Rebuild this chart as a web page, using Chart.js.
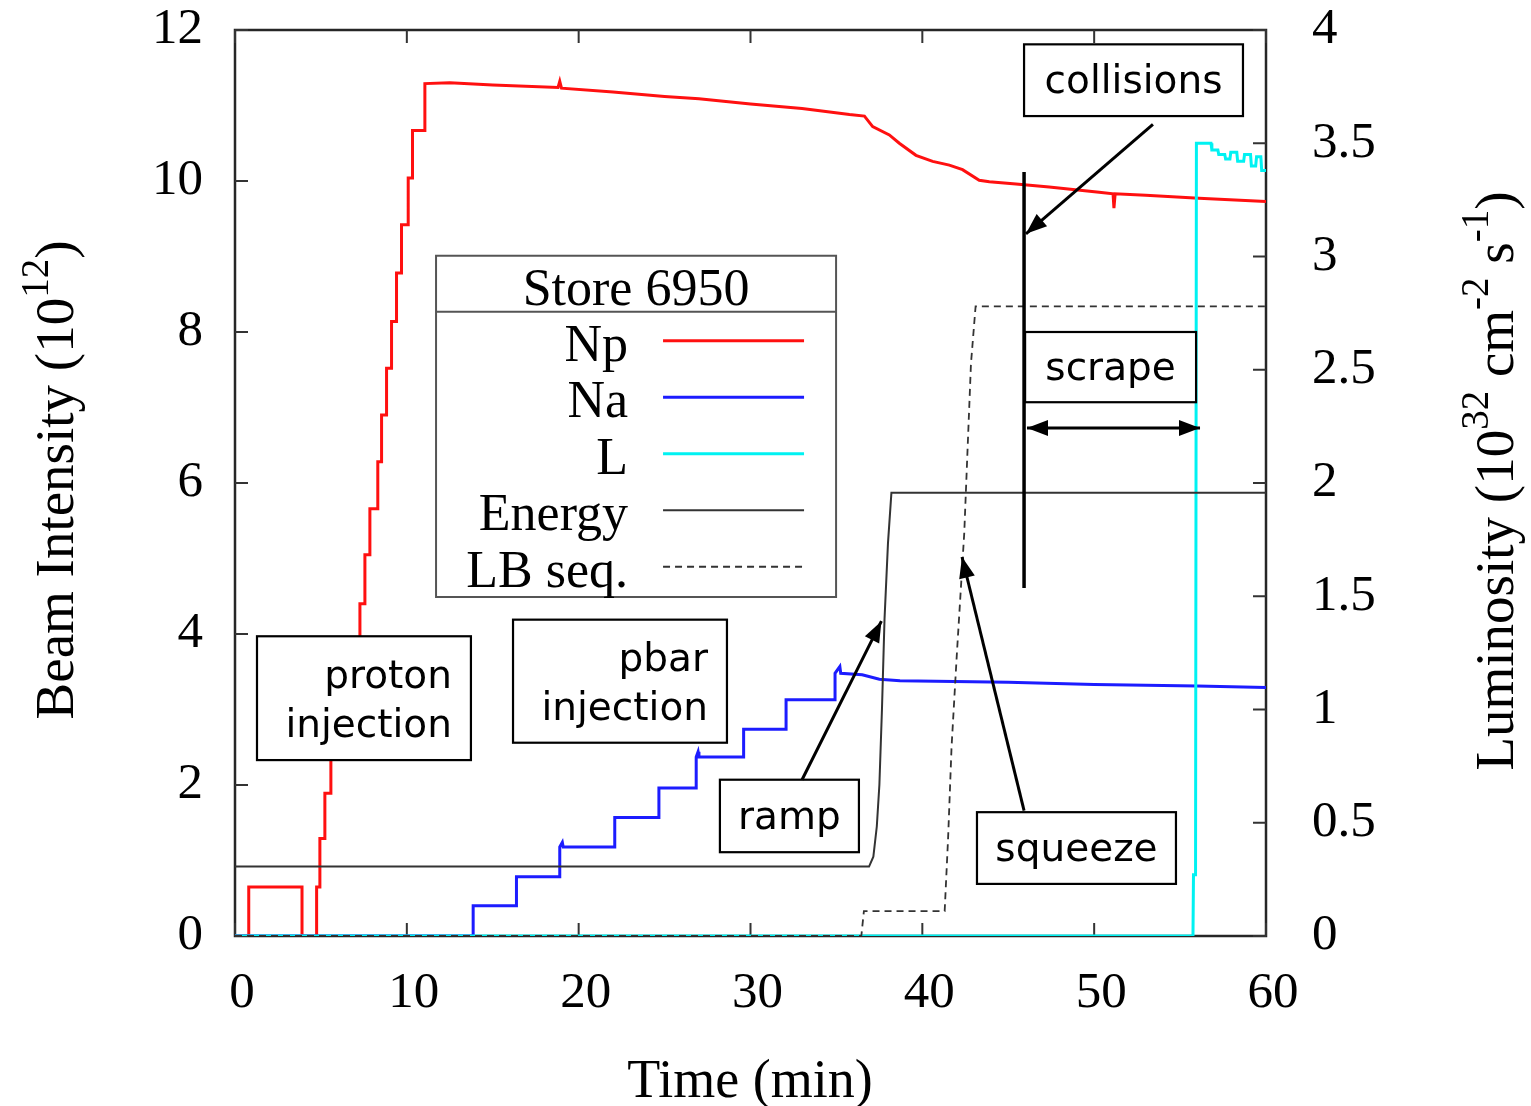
<!DOCTYPE html>
<html>
<head>
<meta charset="utf-8">
<title>Store 6950</title>
<script src="https://cdn.jsdelivr.net/npm/chart.js@4.4.1/dist/chart.umd.min.js"></script>
<style>
  html, body { margin: 0; padding: 0; background: #ffffff; }
  #wrap { width: 1531px; height: 1106px; }
</style>
</head>
<body>
<div id="wrap"><canvas id="c" width="1531" height="1106"></canvas></div>
<script>
// Store 6950 — beam intensities, luminosity, energy and low-beta sequence vs. time.
// Each series is a list of [time (min), value] samples.

// Proton intensity Np (10^12), left axis
const npPoints = [
  [0, 0], [0.8, 0], [0.8, 0.65], [3.9, 0.65], [3.9, 0], [4.75, 0],
  [4.75, 0.65], [4.94, 0.65], [4.94, 1.29], [5.23, 1.29], [5.23, 1.89],
  [5.58, 1.89], [5.58, 2.50], [6.10, 2.50], [6.10, 3.13], [6.69, 3.13],
  [6.69, 3.76], [7.27, 3.76], [7.27, 4.40], [7.56, 4.40], [7.56, 5.05],
  [7.85, 5.05], [7.85, 5.66], [8.31, 5.66], [8.31, 6.28], [8.53, 6.28],
  [8.53, 6.90], [8.82, 6.90], [8.82, 7.52], [9.11, 7.52], [9.11, 8.14],
  [9.40, 8.14], [9.40, 8.78], [9.69, 8.78], [9.69, 9.42], [10.08, 9.42],
  [10.08, 10.04], [10.33, 10.04], [10.33, 10.67], [11.05, 10.67],
  [11.05, 11.29], [12.5, 11.30], [15, 11.27], [18.8, 11.24], [18.9, 11.32],
  [19.0, 11.23], [22, 11.18], [25, 11.12], [27, 11.09], [30, 11.02],
  [33, 10.96], [35.76, 10.88], [36.63, 10.86], [37.11, 10.72], [38.08, 10.61],
  [38.66, 10.50], [39.63, 10.34], [40.6, 10.26], [41.57, 10.21], [42.34, 10.15],
  [43.31, 10.01], [43.9, 9.99], [45.45, 9.96], [47.38, 9.92], [50.29, 9.85],
  [51.1, 9.83], [51.15, 9.64], [51.22, 9.83], [53, 9.81], [56.1, 9.77], [60, 9.73]
];

// Antiproton intensity Na (10^12), left axis
const naPoints = [
  [0, 0], [13.86, 0], [13.86, 0.40], [16.38, 0.40], [16.38, 0.785],
  [18.9, 0.785], [18.9, 1.18], [19.05, 1.24], [19.1, 1.18], [22.1, 1.18],
  [22.1, 1.57], [24.67, 1.57], [24.67, 1.96], [26.84, 1.96], [26.84, 2.37],
  [26.95, 2.44], [27.0, 2.37], [29.6, 2.37], [29.6, 2.74], [32.07, 2.74],
  [32.07, 3.13], [34.92, 3.13], [34.92, 3.48], [35.2, 3.57], [35.25, 3.48],
  [36.5, 3.46], [37.5, 3.40], [38.7, 3.38], [45, 3.36], [50, 3.33],
  [56, 3.31], [60, 3.29]
];

// Luminosity L (10^32 cm^-2 s^-1), right axis
const lumPoints = [
  [0, 0], [55.75, 0], [55.78, 0.27], [55.9, 0.27], [55.95, 3.50], [56.8, 3.50],
  [56.85, 3.47], [57.2, 3.47], [57.25, 3.45], [57.6, 3.45], [57.65, 3.43],
  [57.9, 3.43], [57.95, 3.46], [58.3, 3.46], [58.35, 3.42], [58.7, 3.42],
  [58.75, 3.45], [59.1, 3.45], [59.15, 3.40], [59.4, 3.40], [59.45, 3.44],
  [59.7, 3.44], [59.75, 3.38], [60, 3.38]
];

// Beam energy (scaled), left axis
const energyPoints = [
  [0, 0.92], [36.9, 0.92], [37.15, 1.05], [37.35, 1.45], [37.5, 2.0],
  [37.65, 3.0], [37.8, 4.2], [38.0, 5.2], [38.2, 5.87], [60, 5.87]
];

// Low-beta sequencer step (scaled), left axis
const lbSeqPoints = [
  [0, 0], [36.45, 0], [36.6, 0.33], [41.3, 0.33], [41.5, 1.3], [41.7, 2.5],
  [42.0, 3.7], [42.44, 5.34], [42.83, 7.58], [43.1, 8.34], [60, 8.34]
];

const seriesNames = ['Np', 'Na', 'L', 'Energy', 'LB seq.'];
const xTicks = [0, 10, 20, 30, 40, 50, 60];
const yLeftTicks = [0, 2, 4, 6, 8, 10, 12];
const yRightTicks = [0, 0.5, 1, 1.5, 2, 2.5, 3, 3.5, 4];
const legendTitle = 'Store 6950';

const SERIF = '"Liberation Serif", "DejaVu Serif", serif';
const HAND = '"DejaVu Sans", "Noto Sans", sans-serif';

const toXY = pts => pts.map(p => ({ x: p[0], y: p[1] }));

// Labelled callout boxes, placed in data coordinates (time, left-axis value)
const callouts = [
  { lines: ['proton', 'injection'], t0: 1.28, t1: 13.73, v0: 3.97, v1: 2.33, align: 'right' },
  { lines: ['pbar', 'injection'], t0: 16.18, t1: 28.63, v0: 4.19, v1: 2.56, align: 'right' },
  { lines: ['ramp'], t0: 28.22, t1: 36.31, v0: 2.07, v1: 1.11, align: 'center' },
  { lines: ['squeeze'], t0: 43.18, t1: 54.76, v0: 1.64, v1: 0.69, align: 'center' },
  { lines: ['collisions'], t0: 45.92, t1: 58.66, v0: 11.81, v1: 10.86, align: 'center' },
  { lines: ['scrape'], t0: 45.98, t1: 55.93, v0: 8.00, v1: 7.07, align: 'center' }
];
// Arrows: [tFrom, vFrom, tTo, vTo, doubleHeaded]
const arrows = [
  [33.0, 2.07, 37.62, 4.17, false],
  [45.92, 1.66, 42.31, 5.02, false],
  [53.42, 10.75, 46.03, 9.30, false],
  [46.09, 6.73, 56.16, 6.73, true]
];
// Marker for the start of collisions
const collisionMarker = { t: 45.92, v0: 4.61, v1: 10.12 };

function arrowHead(ctx, x0, y0, x1, y1) {
  const ang = Math.atan2(y1 - y0, x1 - x0);
  const len = 21, half = 8;
  ctx.beginPath();
  ctx.moveTo(x1, y1);
  ctx.lineTo(x1 - len * Math.cos(ang) + half * Math.sin(ang), y1 - len * Math.sin(ang) - half * Math.cos(ang));
  ctx.lineTo(x1 - len * Math.cos(ang) - half * Math.sin(ang), y1 - len * Math.sin(ang) + half * Math.cos(ang));
  ctx.closePath();
  ctx.fill();
}

function drawRich(ctx, pieces, cx, cy, angle, base, sup) {
  ctx.save();
  ctx.translate(cx, cy);
  ctx.rotate(angle);
  ctx.textAlign = 'left';
  ctx.textBaseline = 'alphabetic';
  ctx.fillStyle = '#000';
  let total = 0;
  const widths = pieces.map(p => {
    ctx.font = (p.sup ? sup : base) + 'px ' + SERIF;
    const w = ctx.measureText(p.t).width;
    total += w;
    return w;
  });
  let x = -total / 2;
  pieces.forEach((p, i) => {
    ctx.font = (p.sup ? sup : base) + 'px ' + SERIF;
    ctx.fillText(p.t, x, p.sup ? -base * 0.46 : 0);
    x += widths[i];
  });
  ctx.restore();
}

const framePlugin = {
  id: 'frame',
  beforeDatasetsDraw(chart) {
    const { ctx, chartArea: a, scales } = chart;
    ctx.save();
    ctx.strokeStyle = '#262626';
    ctx.lineWidth = 2.5;
    ctx.strokeRect(a.left, a.top, a.right - a.left, a.bottom - a.top);
    ctx.lineWidth = 2;
    ctx.strokeStyle = '#333';
    const L = 13;
    ctx.beginPath();
    scales.x.ticks.forEach(t => {
      const p = scales.x.getPixelForValue(t.value);
      ctx.moveTo(p, a.bottom); ctx.lineTo(p, a.bottom - L);
      ctx.moveTo(p, a.top); ctx.lineTo(p, a.top + L);
    });
    scales.y.ticks.forEach(t => {
      const p = scales.y.getPixelForValue(t.value);
      ctx.moveTo(a.left, p); ctx.lineTo(a.left + L, p);
    });
    scales.y2.ticks.forEach(t => {
      const p = scales.y2.getPixelForValue(t.value);
      ctx.moveTo(a.right, p); ctx.lineTo(a.right - L, p);
    });
    ctx.stroke();
    ctx.restore();
  }
};

const overlayPlugin = {
  id: 'overlay',
  afterDatasetsDraw(chart) {
    const { ctx, scales } = chart;
    const X = v => scales.x.getPixelForValue(v);
    const Y = v => scales.y.getPixelForValue(v);
    ctx.save();

    // Legend box
    const lx0 = X(11.70), ly0 = Y(9.01), lx1 = X(34.98), ly1 = Y(4.49);
    ctx.fillStyle = '#fff';
    ctx.fillRect(lx0, ly0, lx1 - lx0, ly1 - ly0);
    ctx.strokeStyle = '#555';
    ctx.lineWidth = 2;
    ctx.strokeRect(lx0, ly0, lx1 - lx0, ly1 - ly0);
    ctx.beginPath();
    ctx.moveTo(lx0, ly0 + 56); ctx.lineTo(lx1, ly0 + 56);
    ctx.stroke();
    ctx.fillStyle = '#000';
    ctx.font = '52px ' + SERIF;
    ctx.textAlign = 'center';
    ctx.textBaseline = 'alphabetic';
    ctx.fillText(legendTitle, (lx0 + lx1) / 2, ly0 + 49);
    const legendOrder = [0, 1, 2, 3, 4];
    legendOrder.forEach((di, row) => {
      const ds = chart.data.datasets[di];
      const ry = ly0 + 85 + row * 56.5;
      ctx.fillStyle = '#000';
      ctx.textAlign = 'right';
      ctx.fillText(ds.label, lx0 + 192, ry + 20);
      ctx.save();
      ctx.strokeStyle = ds.borderColor;
      ctx.lineWidth = ds.borderWidth;
      ctx.setLineDash(ds.borderDash || []);
      ctx.beginPath();
      ctx.moveTo(lx0 + 227, ry); ctx.lineTo(lx0 + 368, ry);
      ctx.stroke();
      ctx.restore();
    });

    // Collision marker
    ctx.strokeStyle = '#000';
    ctx.lineWidth = 3.5;
    ctx.beginPath();
    ctx.moveTo(X(collisionMarker.t), Y(collisionMarker.v0));
    ctx.lineTo(X(collisionMarker.t), Y(collisionMarker.v1));
    ctx.stroke();

    // Callout boxes
    ctx.font = '39px ' + HAND;
    callouts.forEach(c => {
      const x0 = X(c.t0), x1 = X(c.t1), y0 = Y(c.v0), y1 = Y(c.v1);
      ctx.fillStyle = '#fff';
      ctx.fillRect(x0, y0, x1 - x0, y1 - y0);
      ctx.strokeStyle = '#000';
      ctx.lineWidth = 2.2;
      ctx.strokeRect(x0, y0, x1 - x0, y1 - y0);
      ctx.fillStyle = '#000';
      const cy = (y0 + y1) / 2;
      const n = c.lines.length;
      c.lines.forEach((txt, i) => {
        const by = n === 1 ? cy + 13 : cy - 10 + i * 49;
        if (c.align === 'right') {
          ctx.textAlign = 'right';
          ctx.fillText(txt, x1 - 19, by);
        } else {
          ctx.textAlign = 'center';
          ctx.fillText(txt, (x0 + x1) / 2, by);
        }
      });
    });

    // Arrows
    ctx.strokeStyle = '#000';
    ctx.fillStyle = '#000';
    ctx.lineWidth = 3;
    arrows.forEach(a => {
      const x0 = X(a[0]), y0 = Y(a[1]), x1 = X(a[2]), y1 = Y(a[3]);
      ctx.beginPath();
      ctx.moveTo(x0, y0); ctx.lineTo(x1, y1);
      ctx.stroke();
      arrowHead(ctx, x0, y0, x1, y1);
      if (a[4]) arrowHead(ctx, x1, y1, x0, y0);
    });
    ctx.restore();
  },
  afterDraw(chart) {
    const ctx = chart.ctx;
    drawRich(ctx, [{ t: 'Beam Intensity (10' }, { t: '12', sup: true }, { t: ')' }],
      73, 480, -Math.PI / 2, 55, 39);
    drawRich(ctx, [{ t: 'Luminosity (10' }, { t: '32', sup: true }, { t: ' cm' },
      { t: '-2', sup: true }, { t: ' s' }, { t: '-1', sup: true }, { t: ')' }],
      1513, 481, -Math.PI / 2, 55, 39);
    drawRich(ctx, [{ t: 'Time (min)' }], 750, 1097, 0, 54, 38);
  }
};

const tickFont = { family: SERIF, size: 51, lineHeight: 1 };

// Fixed axis band sizes; end-label overhang is absorbed by the layout padding.
const fixWidth = w => s => { s.width = w; s.paddingTop = 0; s.paddingBottom = 0; };
const fixHeight = h => s => { s.height = h; s.paddingLeft = 0; s.paddingRight = 0; };

new Chart(document.getElementById('c').getContext('2d'), {
  type: 'line',
  data: {
    datasets: [
      { label: seriesNames[0], data: toXY(npPoints), borderColor: '#ff1010', borderWidth: 3, yAxisID: 'y', order: 5 },
      { label: seriesNames[1], data: toXY(naPoints), borderColor: '#1c1cff', borderWidth: 3, yAxisID: 'y', order: 4 },
      { label: seriesNames[2], data: toXY(lumPoints), borderColor: '#00f2f2', borderWidth: 3, yAxisID: 'y2', order: 3 },
      { label: seriesNames[3], data: toXY(energyPoints), borderColor: '#333333', borderWidth: 2, yAxisID: 'y', order: 2 },
      { label: seriesNames[4], data: toXY(lbSeqPoints), borderColor: '#333333', borderWidth: 1.8, borderDash: [7, 5], yAxisID: 'y', order: 1 }
    ]
  },
  options: {
    responsive: false,
    animation: false,
    devicePixelRatio: 1,
    layout: { padding: { top: 30, left: 0, right: 0, bottom: 0 } },
    elements: { point: { radius: 0 }, line: { tension: 0, fill: false } },
    plugins: { legend: { display: false }, tooltip: { enabled: false } },
    scales: {
      x: {
        type: 'linear', min: 0, max: 60,
        afterBuildTicks: s => { s.ticks = xTicks.map(v => ({ value: v })); },
        ticks: { font: tickFont, color: '#000', padding: 32, labelOffset: 7, maxRotation: 0, callback: v => String(v) },
        grid: { display: false, drawTicks: false },
        border: { display: false },
        afterFit: fixHeight(170)
      },
      y: {
        position: 'left', min: 0, max: 12,
        afterBuildTicks: s => { s.ticks = yLeftTicks.map(v => ({ value: v })); },
        ticks: { font: tickFont, color: '#000', padding: 32, callback: v => String(v) },
        grid: { display: false, drawTicks: false },
        border: { display: false },
        afterFit: fixWidth(235)
      },
      y2: {
        position: 'right', min: 0, max: 4,
        afterBuildTicks: s => { s.ticks = yRightTicks.map(v => ({ value: v })); },
        ticks: { font: tickFont, color: '#000', padding: 46, callback: v => String(v) },
        grid: { display: false, drawTicks: false },
        border: { display: false },
        afterFit: fixWidth(265)
      }
    }
  },
  plugins: [framePlugin, overlayPlugin]
});
</script>
</body>
</html>
